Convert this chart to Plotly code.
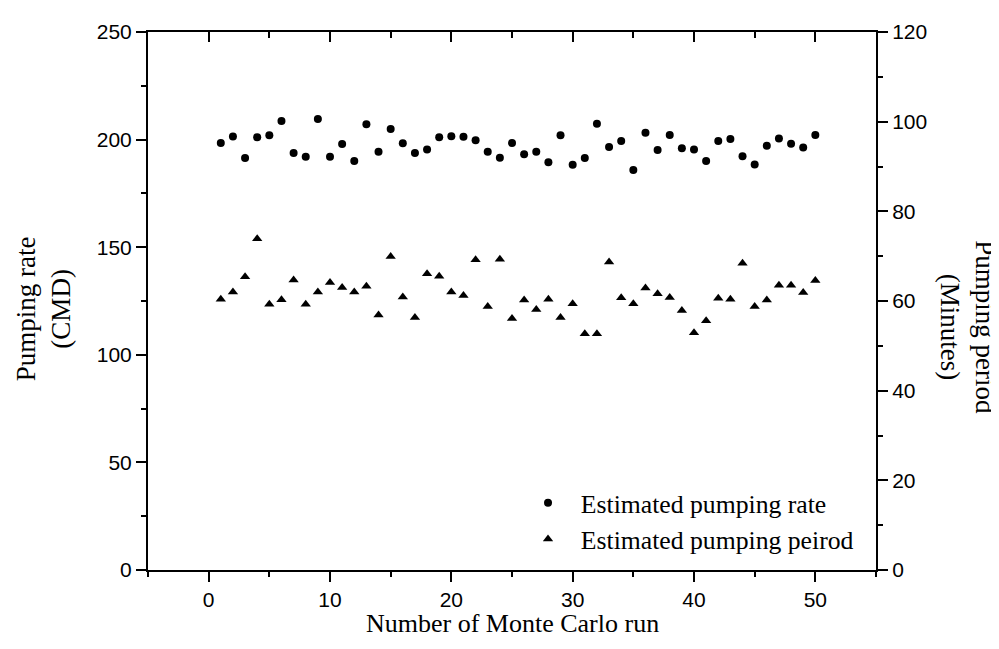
import plotly.graph_objects as go

runs = list(range(1, 51))
pumping_rate = [198.4, 201.4, 191.5, 201.1, 202.0, 208.6, 193.8, 192.0, 209.6, 192.0,
                198.0, 190.1, 207.1, 194.3, 204.9, 198.3, 193.8, 195.4, 201.1, 201.5,
                201.3, 199.7, 194.3, 191.6, 198.4, 193.2, 194.4, 189.5, 202.0, 188.3,
                191.5, 207.4, 196.6, 199.4, 185.9, 203.2, 195.2, 202.1, 196.0, 195.4,
                190.0, 199.4, 200.3, 192.3, 188.4, 197.1, 200.5, 198.1, 196.3, 202.1]
pumping_period = [60.4, 62.0, 65.4, 73.9, 59.3, 60.3, 64.7, 59.3, 62.0, 64.1,
                  63.0, 62.0, 63.3, 56.9, 69.9, 60.9, 56.3, 66.1, 65.5, 62.0,
                  61.2, 69.2, 58.8, 69.3, 56.1, 60.2, 58.1, 60.4, 56.3, 59.4,
                  52.7, 52.7, 68.7, 60.7, 59.4, 62.9, 61.6, 60.8, 57.9, 52.9,
                  55.6, 60.6, 60.4, 68.4, 58.8, 60.2, 63.5, 63.5, 61.9, 64.6]

serif = "Liberation Serif, Times New Roman, serif"
sans = "Liberation Sans, Arial, sans-serif"

fig = go.Figure()
fig.add_trace(go.Scatter(x=runs, y=pumping_rate, mode="markers",
                         name="\u00a0\u00a0Estimated pumping rate",
                         marker=dict(symbol="circle", size=8, color="black"),
                         xaxis="x", yaxis="y"))
fig.add_trace(go.Scatter(x=runs, y=pumping_period, mode="markers",
                         name="\u00a0\u00a0Estimated pumping peirod",
                         marker=dict(symbol="triangle-up", size=9, color="black"),
                         xaxis="x", yaxis="y2"))
fig.add_trace(go.Scatter(x=[None], y=[None], xaxis="x2", yaxis="y",
                         showlegend=False, hoverinfo="skip"))

axis_common = dict(showline=True, linewidth=2, linecolor="black", showgrid=False,
                   zeroline=False, tickwidth=2, tickcolor="black", ticklen=10)
minor_out = dict(ticks="outside", ticklen=5, tickwidth=2, tickcolor="black")
minor_in = dict(ticks="inside", ticklen=6, tickwidth=2, tickcolor="black")
tickfont = dict(family=sans, size=21, color="black")

fig.update_layout(
    width=999, height=649,
    margin=dict(l=140, r=131, t=21, b=87),
    plot_bgcolor="white", paper_bgcolor="white",
    showlegend=True,
    legend=dict(x=0.522, y=0.014, xanchor="left", yanchor="bottom",
                font=dict(family=serif, size=25.7, color="black"),
                bgcolor="rgba(0,0,0,0)", borderwidth=0, itemwidth=30),
    xaxis=dict(range=[-5, 55], tick0=0, dtick=10, ticks="outside",
               minor=dict(dtick=5, **minor_out), tickfont=tickfont, **axis_common),
    xaxis2=dict(range=[-5, 55], overlaying="x", side="top", anchor="y", tick0=0, dtick=10,
                ticks="inside", showticklabels=False,
                minor=dict(dtick=5, **minor_in), **axis_common),
    yaxis=dict(range=[0, 250], tick0=0, dtick=50, ticks="outside",
               minor=dict(dtick=25, **minor_out), tickfont=tickfont, **axis_common),
    yaxis2=dict(range=[0, 120], tick0=0, dtick=20, overlaying="y", side="right", anchor="x",
                ticks="outside", minor=dict(dtick=10, **minor_out),
                tickfont=tickfont, **axis_common),
    annotations=[
        dict(text="Number of Monte Carlo run", x=0.5, y=-0.1, xref="paper", yref="paper",
             xanchor="center", yanchor="middle", showarrow=False,
             font=dict(family=serif, size=26, color="black")),
        dict(text="Pumping rate<br>(CMD)", x=-0.144, y=0.485, xref="paper", yref="paper",
             xanchor="center", yanchor="middle", textangle=-90, showarrow=False,
             font=dict(family=serif, size=27, color="black")),
        dict(text="Pumping period<br>(Minutes)", x=1.1264, y=0.451, xref="paper", yref="paper",
             xanchor="center", yanchor="middle", textangle=90, showarrow=False,
             font=dict(family=serif, size=27, color="black")),
    ],
)

fig.write_html("out.html")
